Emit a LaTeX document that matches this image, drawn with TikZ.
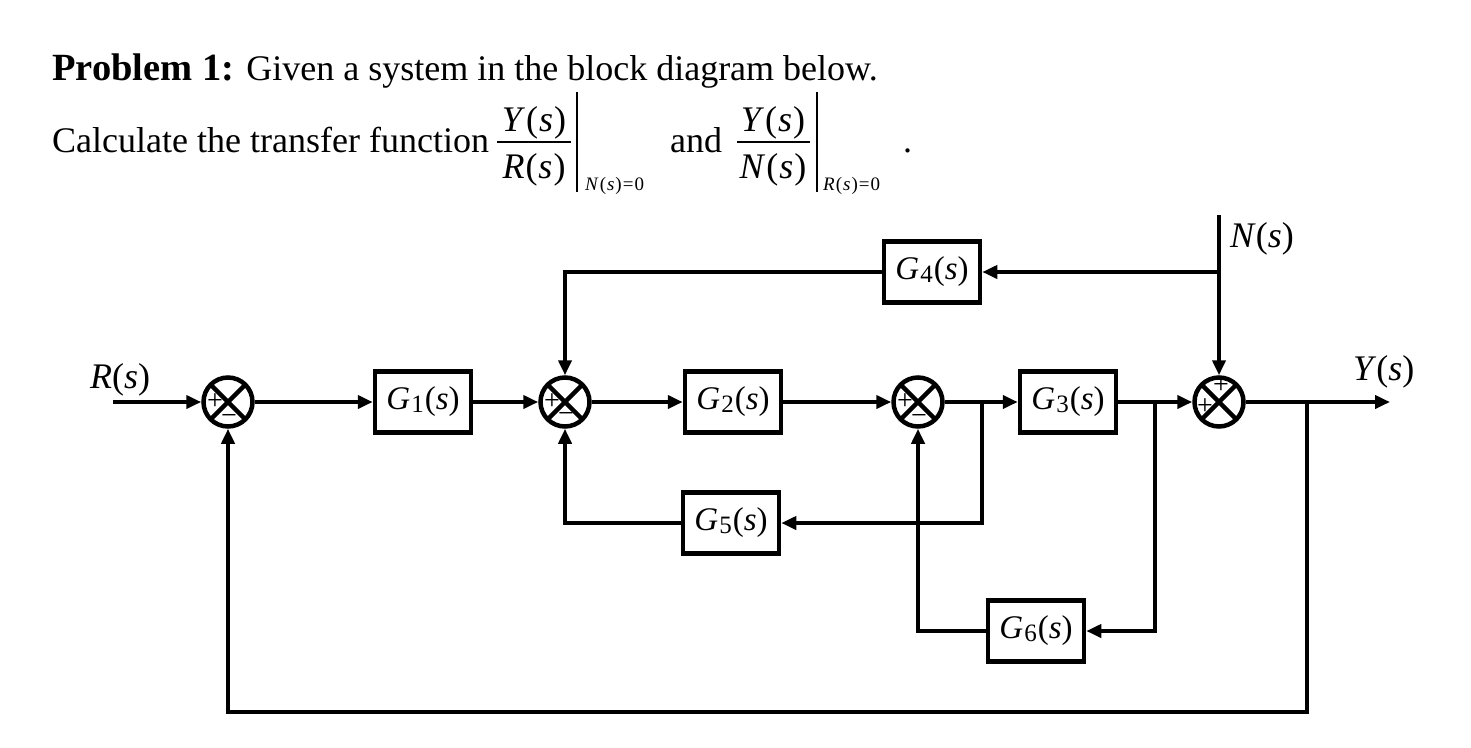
\documentclass[tikz,border=0pt]{standalone}
\usepackage{fontspec}
\setmainfont{Liberation Serif}
\usetikzlibrary{arrows.meta}
\newcommand{\blkG}[1]{\textit{G}\kern1pt\raisebox{-3pt}{\fontsize{25}{25}\selectfont #1}\kern1pt(\textit{s})}
\begin{document}
\begin{tikzpicture}[x=1pt,y=-1pt,
  every node/.style={inner sep=0pt,font=\fontsize{36}{40}\selectfont},
  blk/.style={draw,line width=4.5pt,minimum width=96pt,minimum height=61pt,inner sep=0pt,font=\fontsize{33}{36}\selectfont},
  sum/.style={draw,circle,line width=4.5pt,minimum size=49pt,inner sep=0pt,
    path picture={\draw[line width=4.5pt] (path picture bounding box.north west)--(path picture bounding box.south east)
      (path picture bounding box.north east)--(path picture bounding box.south west);}},
  arr/.style={line width=4pt,-{Triangle[length=15pt,width=13pt]}},
  ln/.style={line width=4pt},
  sgn/.style={font=\fontsize{28}{28}\selectfont,inner sep=0pt},
  fracline/.style={line width=2pt},
  bar/.style={line width=1.6pt},
  small/.style={font=\fontsize{19}{20}\selectfont}
]
\useasboundingbox (0,0) rectangle (1471,747);
\fill[white] (0,0) rectangle (1471,747);

% ---- problem text ----
\node[anchor=base west] (title) at (52,80) {{\fontsize{38.5}{40}\selectfont\textbf{Problem 1:}} Given a system in the block diagram below.};
\node[anchor=base west] (calc) at (52,152) {Calculate the transfer function};
\node[anchor=base] (num1) at (534,131) {\textit{Y}\kern1pt(\kern1pt\textit{s}\kern1pt)};
\node[anchor=base] (den1) at (534,178) {\textit{R}\kern1pt(\kern1pt\textit{s}\kern1pt)};
\coordinate (f1a) at (497,142); \coordinate (f1b) at (571,142);
\draw[fracline] (f1a) -- (f1b);
\coordinate (v1a) at (577,92); \coordinate (v1b) at (577,192);
\draw[bar] (v1a) -- (v1b);
\node[anchor=base west,small] (sub1) at (585,190) {\textit{N}\kern1pt(\kern1pt\textit{s}\kern1pt)\kern1pt=\kern1pt0};
\node[anchor=base west] (and) at (670,152) {and};
\node[anchor=base] (num2) at (773,131) {\textit{Y}\kern1pt(\kern1pt\textit{s}\kern1pt)};
\node[anchor=base] (den2) at (773,178) {\textit{N}\kern1pt(\kern1pt\textit{s}\kern1pt)};
\coordinate (f2a) at (737,142); \coordinate (f2b) at (810,142);
\draw[fracline] (f2a) -- (f2b);
\coordinate (v2a) at (817,92); \coordinate (v2b) at (817,192);
\draw[bar] (v2a) -- (v2b);
\node[anchor=base west,small] (sub2) at (823,190) {\textit{R}\kern1pt(\kern1pt\textit{s}\kern1pt)\kern1pt=\kern1pt0};
\node[anchor=base west] (dot) at (903,152) {.};

% ---- blocks ----
\node[blk] (G1) at (423,402) {\blkG{1}};
\node[blk] (G2) at (733,402) {\blkG{2}};
\node[blk] (G3) at (1068,402) {\blkG{3}};
\node[blk] (G4) at (932,272) {\blkG{4}};
\node[blk] (G5) at (731,523) {\blkG{5}};
\node[blk] (G6) at (1036,631) {\blkG{6}};

% ---- summing junctions ----
\node[sum] (s1) at (228,402) {};
\node[sum] (s2) at (565,402) {};
\node[sum] (s3) at (918,402) {};
\node[sum] (s4) at (1219,402) {};

% signs
\node[sgn] (p1) at (215,402) {+};
\node[sgn] (m1) at (229,419) {−};
\node[sgn] (p2) at (552,402) {+};
\node[sgn] (m2) at (566,417) {−};
\node[sgn] (p3) at (905,402) {+};
\node[sgn] (m3) at (919,419) {−};
\node[sgn] (p4) at (1205,407) {+};
\node[sgn] (p4t) at (1221,386) {+};

% ---- labels ----
\node[anchor=base west] (Rl) at (90,388) {\textit{R}(\textit{s})};
\node[anchor=base west] (Yl) at (1353,380) {\textit{Y}(\textit{s})};
\node[anchor=base west] (Nl) at (1230,247) {\textit{N}(\textit{s})};

% ---- coordinates ----
\coordinate (in) at (113,402);
\coordinate (out) at (1390,402);
\coordinate (b1) at (982,402);
\coordinate (b2) at (1155,402);
\coordinate (ntop) at (1219,215);
\coordinate (b3) at (1219,272);
\coordinate (b4) at (1307,402);
\coordinate (bot) at (1307,712);

% ---- connectors ----
\draw[arr] (in) -- (s1);
\draw[arr] (s1) -- (G1);
\draw[arr] (G1) -- (s2);
\draw[arr] (s2) -- (G2);
\draw[arr] (G2) -- (s3);
\draw[arr] (s3) -- (G3);
\draw[arr] (G3) -- (s4);
\draw[arr] (s4) -- (out);
\draw[arr] (b1) |- (G5);
\draw[arr] (G5) -| (s2);
\draw[arr] (b2) |- (G6);
\draw[arr] (G6) -| (s3);
\draw[arr] (ntop) -- (s4);
\draw[arr] (b3) -- (G4);
\draw[arr] (G4) -| (s2);
\draw[arr] (b4) -- (bot) -| (s1);
\end{tikzpicture}
\end{document}
